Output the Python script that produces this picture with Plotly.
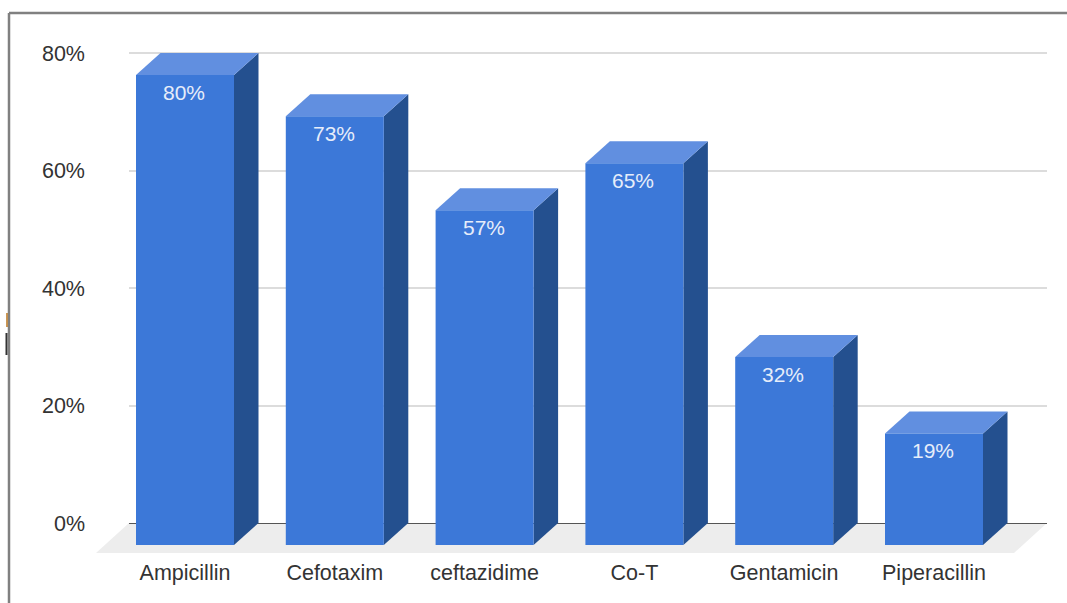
import plotly.graph_objects as go

# Chart data
categories = ["Ampicillin", "Cefotaxim", "ceftazidime", "Co-T", "Gentamicin", "Piperacillin"]
resistance = [80, 73, 57, 65, 32, 19]
y_ticks = [0, 20, 40, 60, 80]

# Page and plot-area geometry, in pixels
WIDTH, HEIGHT = 1067, 603
PLOT_L, PLOT_R, PLOT_T, PLOT_B = 129, 1047, 43, 553
PX_PER_UNIT_X = 149.8
PX_PER_UNIT_Y = 470 / 80
FIRST_CENTER_PX = 185
ZERO_PX = 523

# Extruded-bar projection, in axis units
DEPTH_X = 24.5 / PX_PER_UNIT_X
DEPTH_Y = 22 / PX_PER_UNIT_Y
HALF_BAR = 49 / PX_PER_UNIT_X

FRONT, TOP, SIDE = "#3c78d8", "#618fe0", "#24508f"
FONT = "Liberation Sans"

x_range = [(PLOT_L - FIRST_CENTER_PX) / PX_PER_UNIT_X, (PLOT_R - FIRST_CENTER_PX) / PX_PER_UNIT_X]
y_range = [(ZERO_PX - PLOT_B) / PX_PER_UNIT_Y, (ZERO_PX - PLOT_T) / PX_PER_UNIT_Y]


def face(xs, ys, color):
    return go.Scatter(
        x=xs + xs[:1], y=ys + ys[:1], mode="lines", fill="toself", fillcolor=color,
        line=dict(width=0, color=color), hoverinfo="skip", showlegend=False,
    )


def paper_x(px):
    return (px - PLOT_L) / (PLOT_R - PLOT_L)


def paper_y(py):
    return (PLOT_B - py) / (PLOT_B - PLOT_T)


def page_line(x0, y0, x1, y1, color, width):
    return dict(
        type="line", xref="paper", yref="paper", layer="above",
        x0=paper_x(x0), y0=paper_y(y0), x1=paper_x(x1), y1=paper_y(y1),
        line=dict(color=color, width=width),
    )


fig = go.Figure()

# Each bar is three faces projected from its value
for i, value in enumerate(resistance):
    l, r = i - HALF_BAR, i + HALF_BAR
    front_top, front_bottom = value - DEPTH_Y, -DEPTH_Y
    fig.add_trace(face([r, r + DEPTH_X, r + DEPTH_X, r], [front_top, value, 0, front_bottom], SIDE))
    fig.add_trace(face([l, r, r + DEPTH_X, l + DEPTH_X], [front_top, front_top, value, value], TOP))
    fig.add_trace(face([l, r, r, l], [front_top, front_top, front_bottom, front_bottom], FRONT))
    fig.add_annotation(
        x=i, y=front_top, text=f"{value}%", showarrow=False, xshift=-1, yshift=-17, yanchor="middle",
        font=dict(family=FONT, size=21, color="#e6edfa"),
    )

# Floor parallelogram, reaching past the left edge of the plot area
floor_pts = [(PLOT_L, ZERO_PX), (PLOT_R, ZERO_PX), (PLOT_R - 33, PLOT_B), (PLOT_L - 33, PLOT_B)]
floor_path = "M " + " L ".join(f"{paper_x(a):.5f} {paper_y(b):.5f}" for a, b in floor_pts) + " Z"

fig.update_layout(
    width=WIDTH, height=HEIGHT, autosize=False,
    margin=dict(l=PLOT_L, r=WIDTH - PLOT_R, t=PLOT_T, b=HEIGHT - PLOT_B, pad=0),
    paper_bgcolor="white", plot_bgcolor="rgba(0,0,0,0)", showlegend=False,
    xaxis=dict(
        range=x_range, tickmode="array", tickvals=list(range(len(categories))), ticktext=categories,
        showgrid=False, zeroline=False, showline=False, ticks="",
        ticklabelstandoff=4, tickfont=dict(family=FONT, size=21.5, color="#333333"),
    ),
    yaxis=dict(
        range=y_range, tickmode="array", tickvals=y_ticks, ticktext=[f"{t}%" for t in y_ticks],
        showgrid=True, gridcolor="#dcdcdc", gridwidth=2,
        zeroline=True, zerolinecolor="#555555", zerolinewidth=1, showline=False, ticks="",
        ticklabelstandoff=43, tickfont=dict(family=FONT, size=21.5, color="#333333"),
    ),
    shapes=[
        dict(type="path", xref="paper", yref="paper", layer="below", path=floor_path,
             fillcolor="#ededed", line=dict(width=0)),
        # Frame running off the top-right and bottom-left of the page
        page_line(9, 13, WIDTH, 13, "#808080", 2.5),
        page_line(9, 13, 9, HEIGHT, "#808080", 2.5),
        # Small marks against the frame
        page_line(7, 313, 7, 327, "#b8741f", 1.5),
        page_line(6.5, 333, 6.5, 355, "#333333", 2),
    ],
)

fig.write_html("out.html")
